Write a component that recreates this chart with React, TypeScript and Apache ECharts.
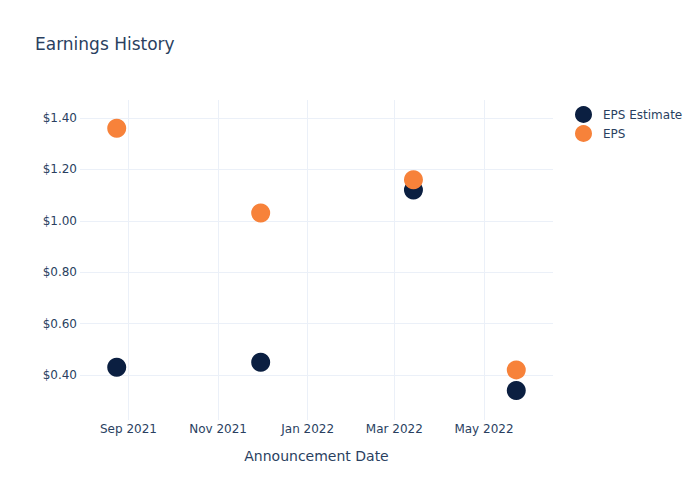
import React, { useEffect, useRef } from "react";
import * as echarts from "echarts";

const dates = ["2021-08-24", "2021-11-30", "2022-03-14", "2022-05-23"];
const epsEstimate = [0.43, 0.45, 1.12, 0.34];
const eps = [1.36, 1.03, 1.16, 0.42];
const xTicks = ["2021-09-01", "2021-11-01", "2022-01-01", "2022-03-01", "2022-05-01"];
const yTicks = [0.4, 0.6, 0.8, 1.0, 1.2, 1.4];
const xRange = ["2021-07-30", "2022-06-17"];
const yRange = [0.225, 1.47];
const monthNames = ["Jan", "Feb", "Mar", "Apr", "May", "Jun", "Jul", "Aug", "Sep", "Oct", "Nov", "Dec"];

const ts = (s: string) => {
  const [y, m, d] = s.split("-").map(Number);
  return Date.UTC(y, m - 1, d);
};

const FONT = "DejaVu Sans";
const TEXT = "#2a3f5f";
const GRID = "#EBF0F8";

export default function App() {
  const ref = useRef<HTMLDivElement>(null);
  useEffect(() => {
    const chart = echarts.init(ref.current!, null, { renderer: "svg" });
    chart.setOption({
      animation: false,
      textStyle: { fontFamily: FONT },
      title: {
        text: "Earnings History",
        left: 35,
        top: 35,
        padding: 0,
        textStyle: { fontFamily: FONT, fontSize: 17, fontWeight: "normal", color: TEXT },
      },
      legend: {
        orient: "vertical",
        left: 575,
        top: 106,
        padding: 0,
        icon: "circle",
        itemWidth: 17,
        itemHeight: 17,
        itemGap: 2,
        textStyle: { fontFamily: FONT, fontSize: 12, color: TEXT, padding: [0, 0, 0, 6] },
        data: ["EPS Estimate", "EPS"],
      },
      grid: { left: 80, right: 147, top: 100, bottom: 80 },
      xAxis: {
        type: "value",
        min: ts(xRange[0]),
        max: ts(xRange[1]),
        name: "Announcement Date",
        nameLocation: "middle",
        nameGap: 29,
        nameTextStyle: { fontFamily: FONT, fontSize: 14, color: TEXT },
        axisLine: { show: false },
        axisTick: { show: false, customValues: xTicks.map(ts) },
        axisLabel: {
          customValues: xTicks.map(ts),
          margin: 3,
          fontFamily: FONT,
          fontSize: 12,
          color: TEXT,
          formatter: (v: number) => {
            const d = new Date(v);
            return monthNames[d.getUTCMonth()] + " " + d.getUTCFullYear();
          },
        },
        splitLine: { show: true, lineStyle: { color: GRID, width: 1 } },
      },
      yAxis: {
        type: "value",
        min: yRange[0],
        max: yRange[1],
        axisLine: { show: false },
        axisTick: { show: false, customValues: yTicks },
        axisLabel: {
          customValues: yTicks,
          margin: 3,
          fontFamily: FONT,
          fontSize: 12,
          color: TEXT,
          formatter: (v: number) => "$" + v.toFixed(2),
        },
        splitLine: { show: true, lineStyle: { color: GRID, width: 1 } },
      },
      series: [
        {
          name: "EPS Estimate",
          type: "scatter",
          symbolSize: 19,
          itemStyle: { color: "#0b1f41", opacity: 1 },
          data: dates.map((d, i) => [ts(d), epsEstimate[i]]),
        },
        {
          name: "EPS",
          type: "scatter",
          symbolSize: 19,
          itemStyle: { color: "#f7823a", opacity: 1 },
          data: dates.map((d, i) => [ts(d), eps[i]]),
        },
      ],
    });
    return () => chart.dispose();
  }, []);
  return <div ref={ref} style={{ width: 700, height: 500, position: "absolute", left: 0, top: 0 }} />;
}
